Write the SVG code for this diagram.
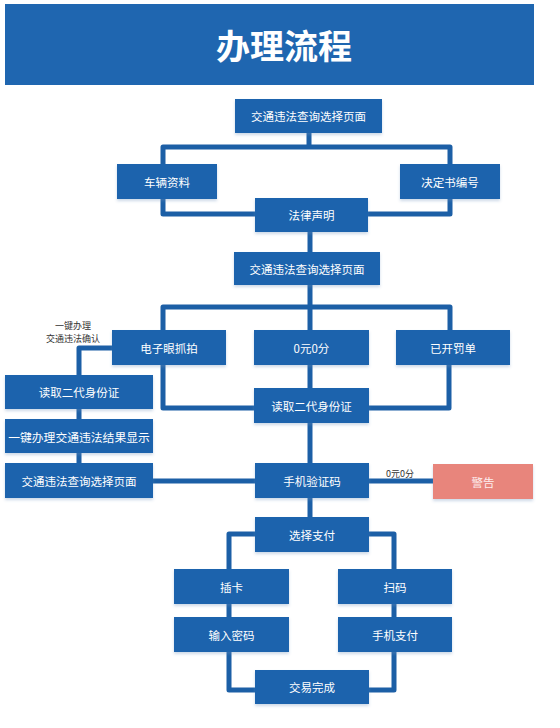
<svg xmlns="http://www.w3.org/2000/svg" width="560" height="728" viewBox="0 0 560 728">
<defs>
<filter id="sh" x="-10%" y="-20%" width="120%" height="160%">
<feDropShadow dx="0" dy="2" stdDeviation="1.5" flood-color="#6f93bd" flood-opacity="0.35"/>
</filter>
<style>
.n{fill:#1f64ad;filter:url(#sh)}
.w{fill:#e8857b;filter:url(#sh)}
.t{font-family:"Noto Sans CJK SC","Noto Sans",sans-serif;font-size:11.5px;fill:#ffffff;text-anchor:middle;dominant-baseline:central}
.l{font-family:"Noto Sans CJK SC","Noto Sans",sans-serif;font-size:9px;fill:#333333;text-anchor:middle;dominant-baseline:central}
.c{fill:none;stroke:#1c5fa6;stroke-width:5;stroke-linejoin:round;stroke-linecap:butt}
</style>
</defs>
<rect width="560" height="728" fill="#ffffff"/>
<g id="title">
<rect x="5" y="4" width="529" height="81" fill="#1f66b0"/>
<text x="284" y="44" font-family="'Noto Sans CJK SC','Noto Sans',sans-serif" font-size="34" font-weight="bold" fill="#ffffff" text-anchor="middle" dominant-baseline="central">办理流程</text>
</g>
<g id="connectors">
<path class="c" d="M309 133 V147 M163 164 V147 H450 V164"/>
<path class="c" d="M163 199 V214 H255 M450 199 V214 H368"/>
<path class="c" d="M310 232 V252"/>
<path class="c" d="M310 285 V330 M163 330 V307 H450 V330"/>
<path class="c" d="M163 365 V408 H254 M449 365 V408 H369 M310 365 V388"/>
<path class="c" d="M112 348 H79 V375 M79 409 V419 M79 453 V463"/>
<path class="c" d="M153 481 H255"/>
<path class="c" d="M310 423 V463"/>
<path class="c" d="M369 481 H433"/>
<path class="c" d="M310 498 V517"/>
<path class="c" d="M255 534 H229 V569 M229 604 V617 M229 652 V690 H255"/>
<path class="c" d="M369 534 H394 V569 M394 604 V617 M394 652 V690 H369"/>
<text class="l" x="400" y="473">0元0分</text>
<text class="l" x="73" y="325">一键办理</text>
<text class="l" x="73" y="338">交通违法确认</text>
</g>
<g id="n1"><rect class="n" x="235" y="99" width="147" height="34"/><text class="t" x="308.5" y="116">交通违法查询选择页面</text></g>
<g id="n2"><rect class="n" x="117" y="164" width="100" height="35"/><text class="t" x="167" y="181.5">车辆资料</text></g>
<g id="n3"><rect class="n" x="400" y="164" width="100" height="35"/><text class="t" x="450" y="181.5">决定书编号</text></g>
<g id="n4"><rect class="n" x="255" y="198" width="113" height="34"/><text class="t" x="311.5" y="215">法律声明</text></g>
<g id="n5"><rect class="n" x="234" y="252" width="146" height="33"/><text class="t" x="307" y="268.5">交通违法查询选择页面</text></g>
<g id="n6"><rect class="n" x="112" y="330" width="114" height="35"/><text class="t" x="169" y="347.5">电子眼抓拍</text></g>
<g id="n7"><rect class="n" x="254" y="330" width="115" height="35"/><text class="t" x="311.5" y="347.5">0元0分</text></g>
<g id="n8"><rect class="n" x="396" y="330" width="114" height="35"/><text class="t" x="453" y="347.5">已开罚单</text></g>
<g id="n9"><rect class="n" x="254" y="388" width="115" height="35"/><text class="t" x="311.5" y="405.5">读取二代身份证</text></g>
<g id="n10"><rect class="n" x="5" y="375" width="148" height="34"/><text class="t" x="79" y="392">读取二代身份证</text></g>
<g id="n11"><rect class="n" x="5" y="419" width="148" height="34"/><text class="t" x="79" y="436" style="font-size:11.8px">一键办理交通违法结果显示</text></g>
<g id="n12"><rect class="n" x="5" y="463" width="148" height="35"/><text class="t" x="79" y="480.5">交通违法查询选择页面</text></g>
<g id="n13"><rect class="n" x="255" y="463" width="114" height="35"/><text class="t" x="312" y="480.5">手机验证码</text></g>
<g id="n14"><rect class="w" x="433" y="464" width="100" height="35"/><text class="t" x="483" y="481.5" style="fill:#fdeeee">警告</text></g>
<g id="n15"><rect class="n" x="255" y="517" width="114" height="35"/><text class="t" x="312" y="534.5">选择支付</text></g>
<g id="n16"><rect class="n" x="174" y="569" width="115" height="35"/><text class="t" x="231.5" y="586.5">插卡</text></g>
<g id="n17"><rect class="n" x="338" y="569" width="114" height="35"/><text class="t" x="395" y="586.5">扫码</text></g>
<g id="n18"><rect class="n" x="174" y="617" width="115" height="35"/><text class="t" x="231.5" y="634.5">输入密码</text></g>
<g id="n19"><rect class="n" x="338" y="617" width="114" height="35"/><text class="t" x="395" y="634.5">手机支付</text></g>
<g id="n20"><rect class="n" x="255" y="670" width="114" height="34"/><text class="t" x="312" y="687">交易完成</text></g>
</svg>
